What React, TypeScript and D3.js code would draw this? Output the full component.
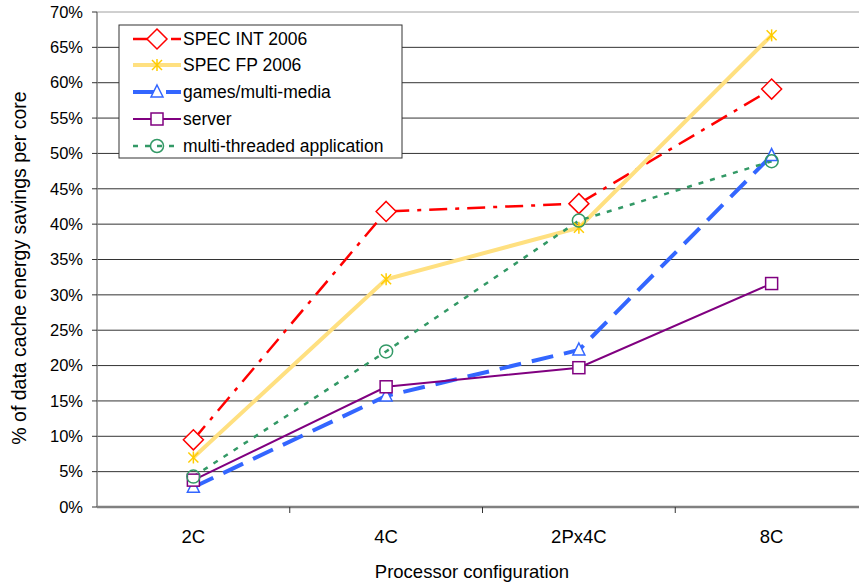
import React from "react";
import * as d3 from "d3";

const categories = ["2C", "4C", "2Px4C", "8C"];
const yTicks = [0, 5, 10, 15, 20, 25, 30, 35, 40, 45, 50, 55, 60, 65, 70];

const specInt = [9.5, 41.8, 42.9, 59.1];
const specFp = [7.0, 32.2, 39.5, 66.7];
const games = [2.8, 15.7, 22.2, 49.7];
const server = [3.8, 17.0, 19.7, 31.6];
const multiThreaded = [4.3, 22.0, 40.5, 48.9];

const seriesNames = [
  "SPEC INT 2006",
  "SPEC FP 2006",
  "games/multi-media",
  "server",
  "multi-threaded application",
];

type Marker = "diamond" | "star" | "triangle" | "square" | "circle";

const seriesList = [
  { name: seriesNames[0], values: specInt, color: "#FF0000", markerColor: "#FF0000", width: 2.5, dash: "18 8 4 8", marker: "diamond" as Marker },
  { name: seriesNames[1], values: specFp, color: "#FFE080", markerColor: "#FFCC00", width: 4, dash: "", marker: "star" as Marker },
  { name: seriesNames[2], values: games, color: "#3366FF", markerColor: "#3366FF", width: 4, dash: "22 11", marker: "triangle" as Marker },
  { name: seriesNames[3], values: server, color: "#800080", markerColor: "#800080", width: 2, dash: "", marker: "square" as Marker },
  { name: seriesNames[4], values: multiThreaded, color: "#339966", markerColor: "#339966", width: 2.5, dash: "5 7", marker: "circle" as Marker },
];

const W = 859;
const H = 584;
const left = 97;
const right = 868;
const top = 12;
const bottom = 507;
const font = "Liberation Sans, Arial, sans-serif";

function MarkerShape({ type, x, y, color }: { type: Marker; x: number; y: number; color: string }) {
  switch (type) {
    case "diamond":
      return <path d={`M${x},${y - 10}L${x + 10},${y}L${x},${y + 10}L${x - 10},${y}Z`} fill="white" stroke={color} strokeWidth={1.5} />;
    case "star":
      return (
        <g stroke={color} strokeWidth={1.5}>
          <line x1={x - 5} y1={y - 5} x2={x + 5} y2={y + 5} />
          <line x1={x - 5} y1={y + 5} x2={x + 5} y2={y - 5} />
          <line x1={x} y1={y - 6} x2={x} y2={y + 6} />
        </g>
      );
    case "triangle":
      return <path d={`M${x},${y - 7}L${x + 6},${y + 5}L${x - 6},${y + 5}Z`} fill="white" stroke={color} strokeWidth={1.5} />;
    case "square":
      return <rect x={x - 6} y={y - 6} width={12} height={12} fill="white" stroke={color} strokeWidth={1.5} />;
    case "circle":
      return <circle cx={x} cy={y} r={6.5} fill="none" stroke={color} strokeWidth={1.5} />;
  }
}

export default function App() {
  const x = d3.scaleBand<string>().domain(categories).range([left, right]);
  const y = d3.scaleLinear().domain([0, 70]).range([bottom, top]);
  const cx = (c: string) => (x(c) as number) + x.bandwidth() / 2;
  const line = d3
    .line<number>()
    .x((_, i) => cx(categories[i]))
    .y((v) => y(v));

  const legX = 119;
  const legY = 25;
  const rowY = [39, 65, 92, 119, 146];

  return (
    <svg width={W} height={H} style={{ position: "absolute", left: 0, top: 0, background: "white" }}>
      {/* gridlines */}
      {yTicks.map((t) => (
        <line key={t} x1={left} x2={W} y1={y(t)} y2={y(t)} stroke={t === 0 ? "#808080" : t === 70 ? "#a0a0a0" : "#333"} strokeWidth={t === 0 ? 2.5 : 1} />
      ))}
      {/* y axis */}
      <line x1={left} x2={left} y1={top} y2={bottom} stroke="#808080" strokeWidth={1.5} />
      {yTicks.map((t) => (
        <g key={"yt" + t}>
          <line x1={left - 5} x2={left} y1={y(t)} y2={y(t)} stroke="#333" />
          <text x={83} y={y(t)} dy="0.35em" textAnchor="end" fontFamily={font} fontSize={16.5}>
            {t}%
          </text>
        </g>
      ))}
      {/* x axis ticks */}
      {categories.map((c, i) => (
        <g key={c}>
          {i > 0 && <line x1={x(c)} x2={x(c)} y1={bottom} y2={bottom + 6} stroke="#333" />}
          <text x={cx(c)} y={543} textAnchor="middle" fontFamily={font} fontSize={18.5}>
            {c}
          </text>
        </g>
      ))}
      <text x={472} y={578} textAnchor="middle" fontFamily={font} fontSize={18.5}>
        Processor configuration
      </text>
      <text transform={`translate(26,${268}) rotate(-90)`} textAnchor="middle" fontFamily={font} fontSize={19.5}>
        % of data cache energy savings per core
      </text>

      {/* series lines */}
      {seriesList.map((s) => (
        <path key={s.name} d={line(s.values) as string} fill="none" stroke={s.color} strokeWidth={s.width} strokeDasharray={s.dash || undefined} />
      ))}
      {/* markers */}
      {seriesList.map((s) =>
        s.values.map((v, i) => <MarkerShape key={s.name + i} type={s.marker} x={cx(categories[i])} y={y(v)} color={s.markerColor} />)
      )}

      {/* legend */}
      <rect x={legX} y={legY} width={283} height={133} fill="white" stroke="#333" strokeWidth={1} />
      {seriesList.map((s, i) => (
        <g key={"leg" + s.name}>
          <line x1={133} x2={181} y1={rowY[i]} y2={rowY[i]} stroke={s.color} strokeWidth={s.width} strokeDasharray={s.dash || undefined} />
          <MarkerShape type={s.marker} x={157} y={rowY[i]} color={s.markerColor} />
          <text x={183} y={rowY[i]} dy="0.35em" fontFamily={font} fontSize={17.5}>
            {s.name}
          </text>
        </g>
      ))}
    </svg>
  );
}
